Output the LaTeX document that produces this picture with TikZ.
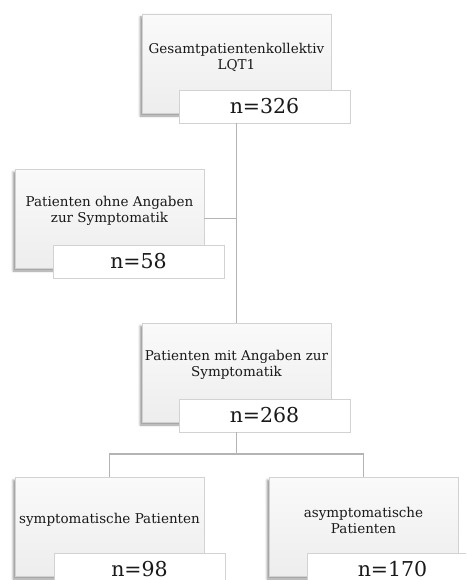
\documentclass[tikz,border=0pt]{standalone}
\usepackage{fontspec}
\setmainfont{DejaVu Serif}
\usepackage{tikz}
\usetikzlibrary{positioning, shadows.blur}

\definecolor{boxline}{HTML}{D2D2D2}
\definecolor{linkgray}{HTML}{B4B4B4}

\begin{document}
\begin{tikzpicture}[x=1pt, y=-1pt,
        groupbox/.style={rectangle, draw=boxline, line width=0.8pt,
                    top color=gray!4, bottom color=gray!14,
                    blur shadow={shadow xshift=-2pt, shadow yshift=-3pt, shadow opacity=40, shadow blur steps=5},
                    minimum width=189pt, minimum height=99pt, inner sep=0pt, outer sep=0pt},
        grouptext/.style={align=center, font=\fontsize{13.5}{16}\selectfont, text=black!90},
        countbox/.style={rectangle, draw=boxline, line width=0.8pt, fill=white,
                    minimum width=171pt, minimum height=33pt, inner sep=0pt, outer sep=0pt,
                    font=\fontsize{20.5}{24}\selectfont, text=black!90},
        link/.style={draw=linkgray, line width=1.5pt}]

        \useasboundingbox (0,0) rectangle (466,580);
        \clip (0,0) rectangle (466,580);

        % big boxes
        \node[groupbox, anchor=north west] (total) at (142,14)  {};
        \node[groupbox, anchor=north west] (none)  at (15,169)  {};
        \node[groupbox, anchor=north west] (with)  at (142,323) {};
        \node[groupbox, anchor=north west] (sympt) at (15,477)  {};
        \node[groupbox, anchor=north west] (asym)  at (269,477) {};

        % texts
        \node[grouptext] (total-txt) at ([yshift=-43pt]total.north) {Gesamtpatientenkollektiv\\LQT1};
        \node[grouptext] (none-txt)  at ([yshift=-42pt]none.north)  {Patienten ohne Angaben\\zur Symptomatik};
        \node[grouptext] (with-txt)  at ([yshift=-42pt]with.north)  {Patienten mit Angaben zur\\Symptomatik};
        \node[grouptext] (sympt-txt) at ([yshift=-43pt]sympt.north) {symptomatische Patienten};
        \node[grouptext] (asym-txt)  at ([yshift=-43pt]asym.north)  {asymptomatische\\Patienten};

        % counts
        \node[countbox, anchor=north west] (n-total) at ([xshift=37pt, yshift=23pt]total.south west) {n=326};
        \node[countbox, anchor=north west] (n-none)  at ([xshift=38pt, yshift=23pt]none.south west)  {n=58};
        \node[countbox, anchor=north west] (n-with)  at ([xshift=37pt, yshift=23pt]with.south west)  {n=268};
        \node[countbox, anchor=north west] (n-sympt) at ([xshift=39pt, yshift=23pt]sympt.south west) {n=98};
        \node[countbox, anchor=north west] (n-asym)  at ([xshift=38pt, yshift=23pt]asym.south west)  {n=170};

        \coordinate (split) at (with.north |- 0,454);

        \draw[link] (n-total.south -| total.south) -- (with.north);
        \draw[link] (none.east) -- (none.east -| total.south);
        \draw[link] (n-with.south -| with.south) -- (split);
        \draw[link] (split) -| (sympt.north);
        \draw[link] (split) -| (asym.north);
    \end{tikzpicture}
\end{document}
